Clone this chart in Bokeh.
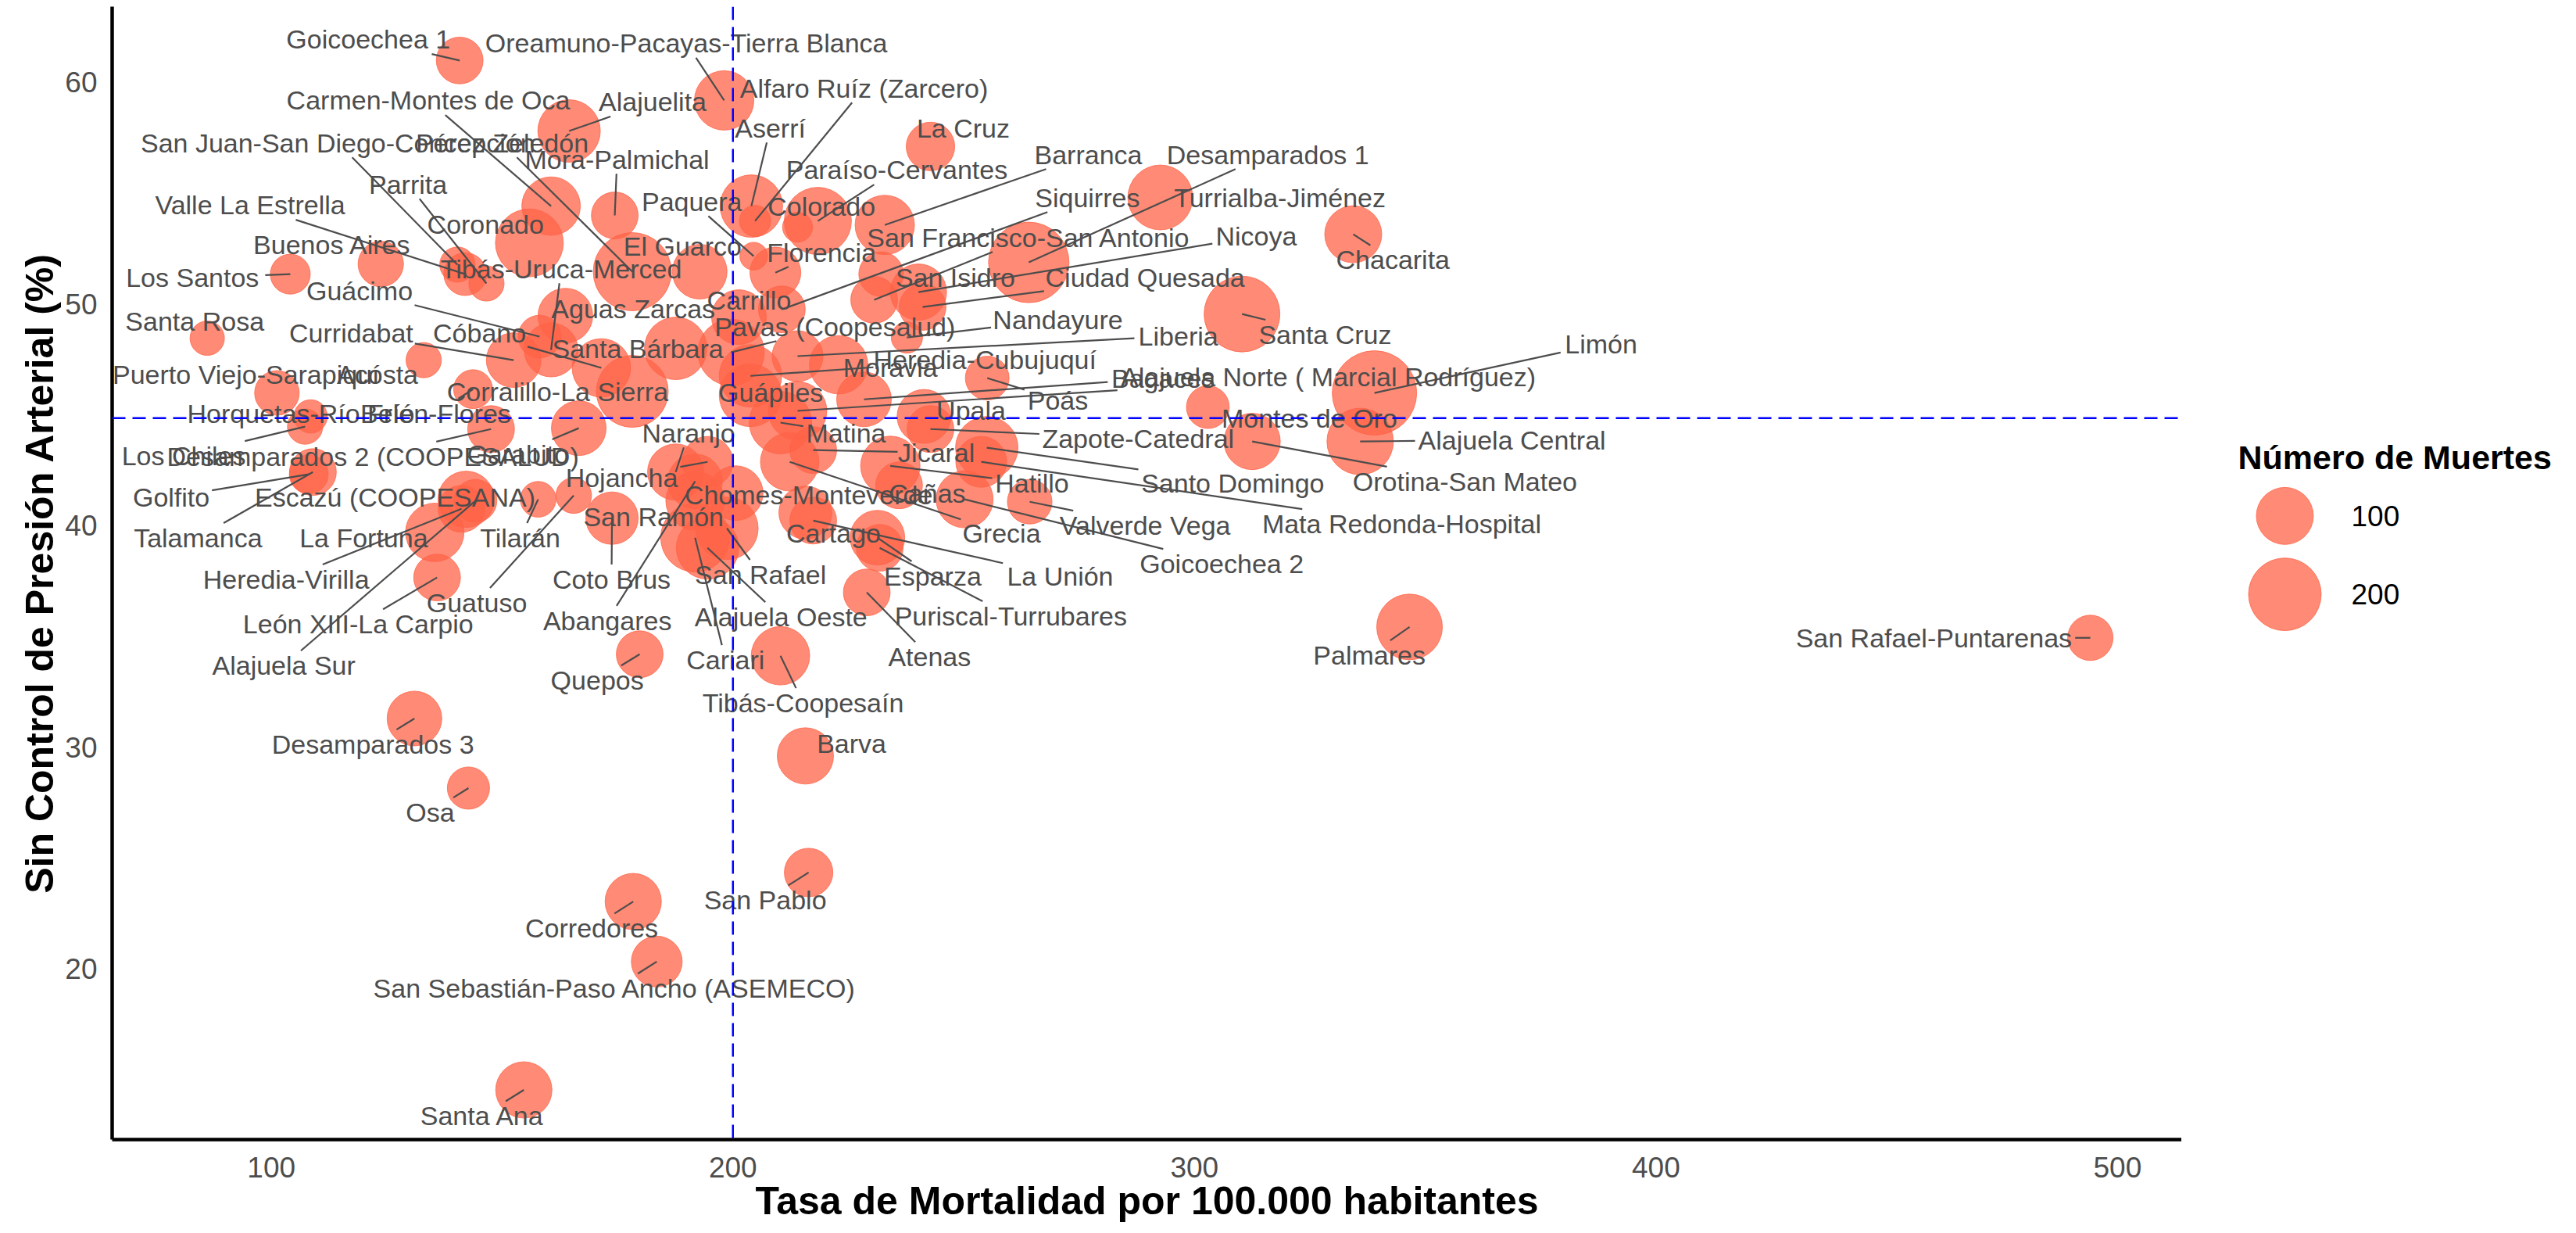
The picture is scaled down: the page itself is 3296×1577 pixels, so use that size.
import math
import numpy as np
from bokeh.plotting import figure
from bokeh.layouts import row
from bokeh.models import Range1d, FixedTicker, Span, ColumnDataSource
from bokeh.embed import file_html
from bokeh.resources import INLINE
from bokeh.core.properties import value

# ---------------- data ----------------
areas = [
    "Goicoechea 1", "Oreamuno-Pacayas-Tierra Blanca", "Alfaro Ruíz (Zarcero)", "Carmen-Montes de Oca", "Alajuelita",
    "La Cruz", "San Juan-San Diego-Concepción", "Pérez Zeledón", "Aserrí", "Paraíso-Cervantes",
    "Barranca", "Desamparados 1", "Mora-Palmichal", "Parrita", "Siquirres",
    "Turrialba-Jiménez", "Valle La Estrella", "Paquera", "Colorado", "Coronado",
    "San Francisco-San Antonio", "Nicoya", "Chacarita", "Buenos Aires", "Florencia",
    "El Guarco", "Tibás-Uruca-Merced", "Los Santos", "San Isidro", "Ciudad Quesada",
    "Guácimo", "Santa Rosa", "Carrillo", "Aguas Zarcas", "Pavas (Coopesalud)",
    "Nandayure", "Curridabat", "Cóbano", "Santa Bárbara", "Santa Cruz",
    "Limón", "Liberia", "Heredia-Cubujuquí", "Moravia", "Puerto Viejo-Sarapiquí",
    "Acosta", "Corralillo-La Sierra", "Bagaces", "Alajuela Norte ( Marcial Rodríguez)", "Guápiles",
    "Poás", "Horquetas-Río Frío", "Belén-Flores", "Upala", "Montes de Oro",
    "Naranjo", "Matina", "Zapote-Catedral", "Alajuela Central", "Los Chiles",
    "Desamparados 2 (COOPESALUD)", "Escazú (COOPESANA)", "Garabito", "Jicaral", "Hojancha",
    "Golfito", "Talamanca", "La Fortuna", "Tilarán", "San Ramón",
    "Chomes-Monteverde", "Cañas", "Hatillo", "Santo Domingo", "Orotina-San Mateo",
    "Valverde Vega", "Mata Redonda-Hospital", "Cartago", "Grecia", "Goicoechea 2",
    "Heredia-Virilla", "Coto Brus", "San Rafael", "Esparza", "La Unión",
    "Guatuso", "León XIII-La Carpio", "Abangares", "Alajuela Oeste", "Puriscal-Turrubares",
    "Palmares", "San Rafael-Puntarenas", "Alajuela Sur", "Quepos", "Cariari",
    "Atenas", "Tibás-Coopesaín", "Desamparados 3", "Barva", "Osa",
    "San Pablo", "Corredores", "San Sebastián-Paso Ancho (ASEMECO)", "Santa Ana",
]

# Tasa de mortalidad por 100.000 habitantes
rate = [
    140.8, 198.1, 204.8, 160.6, 164.5, 242.8, 140.3, 178.2, 204.0, 218.4,
    232.9, 264.1, 174.4, 146.6, 210.6, 292.6, 142.0, 204.5, 214.0, 155.9,
    230.6, 240.2, 334.4, 123.7, 209.2, 192.8, 160.6, 104.1, 232.1, 241.1,
    158.1, 86.1, 201.3, 163.7, 199.6, 237.7, 152.5, 171.5, 187.6, 310.3,
    339.0, 214.0, 203.8, 222.9, 101.2, 133.0, 178.2, 228.4, 214.0, 203.8,
    255.1, 108.5, 143.7, 241.4, 302.9, 187.6, 210.3, 242.8, 335.9, 107.3,
    147.6, 142.2, 166.6, 217.4, 194.5, 108.1, 109.0, 135.4, 157.8, 191.8,
    200.6, 236.0, 234.1, 255.0, 312.5, 264.3, 253.8, 215.7, 212.3, 250.2,
    141.2, 173.8, 198.7, 231.3, 217.4, 165.5, 135.9, 191.8, 194.5, 231.8,
    346.6, 494.1, 144.2, 179.8, 191.8, 229.0, 210.3, 131.0, 215.7, 142.7,
    216.4, 178.4, 183.5, 154.7,
]

# Sin control de presión arterial (%)
pct = [
    60.99, 59.19, 53.75, 54.42, 57.81, 57.11, 51.78, 51.46, 54.42, 53.75,
    53.57, 51.88, 54.00, 50.93, 49.76, 54.81, 51.35, 52.16, 53.47, 52.76,
    50.19, 50.54, 53.15, 51.81, 51.42, 51.46, 47.93, 51.35, 51.35, 49.87,
    48.53, 48.46, 49.41, 49.48, 47.82, 48.49, 47.47, 47.12, 48.00, 49.55,
    45.99, 47.65, 46.76, 47.26, 45.99, 47.47, 46.06, 45.70, 45.18, 45.88,
    46.66, 44.93, 46.16, 44.93, 45.35, 42.42, 44.65, 44.36, 43.80, 44.47,
    44.36, 41.19, 44.40, 43.41, 42.88, 42.32, 42.42, 39.70, 41.19, 41.12,
    41.47, 41.82, 42.70, 43.52, 43.80, 41.08, 42.88, 40.59, 42.88, 41.19,
    40.76, 40.34, 39.88, 39.46, 40.23, 41.36, 37.66, 42.00, 39.00, 39.00,
    35.43, 34.94, 41.12, 34.20, 39.46, 36.99, 34.13, 31.30, 29.61, 28.16,
    24.35, 23.04, 20.33, 14.54,
]

# Número de muertes
deaths = [
    53, 113, 10, 108, 131, 60, 18, 243, 131, 161,
    113, 263, 53, 18, 53, 146, 39, 5, 8, 166,
    53, 96, 100, 48, 70, 88, 84, 30, 45, 53,
    39, 16, 88, 88, 156, 10, 88, 108, 131, 224,
    298, 70, 131, 108, 45, 18, 194, 88, 108, 131,
    42, 14, 27, 84, 39, 96, 131, 53, 156, 18,
    53, 96, 88, 53, 70, 27, 53, 108, 19, 108,
    88, 53, 113, 131, 96, 45, 70, 80, 108, 100,
    53, 77, 131, 88, 53, 19, 53, 88, 131, 53,
    151, 48, 39, 53, 172, 53, 108, 88, 96, 37,
    60, 96, 70, 96,
]

# repelled label positions (data units)
lab_rate = [
    121.0, 189.9, 228.4, 134.0, 182.6, 249.9, 114.4, 150.0, 208.1, 235.5,
    277.0, 315.9, 174.9, 129.6, 276.8, 318.5, 95.4, 191.1, 219.2, 146.4,
    264.1, 313.4, 343.0, 113.2, 219.2, 189.1, 162.8, 82.9, 248.2, 289.3,
    119.1, 83.4, 203.5, 178.4, 222.1, 270.4, 117.3, 145.1, 179.4, 328.3,
    388.1, 296.5, 254.6, 234.1, 94.5, 123.0, 162.0, 293.2, 329.0, 208.2,
    270.4, 106.4, 135.6, 251.6, 324.9, 190.4, 224.5, 287.8, 368.8, 81.0,
    122.0, 126.8, 153.4, 244.1, 175.9, 78.3, 84.1, 120.0, 153.9, 182.8,
    216.4, 242.1, 264.8, 308.3, 358.6, 289.3, 344.9, 221.8, 258.2, 305.9,
    103.2, 173.7, 206.0, 243.3, 270.9, 144.5, 118.8, 172.8, 210.4, 260.2,
    337.9, 460.2, 102.7, 170.6, 198.4, 242.6, 215.2, 122.0, 225.7, 134.4,
    207.0, 169.4, 174.4, 145.7,
]
lab_pct = [
    61.94, 61.77, 59.75, 59.19, 59.12, 57.95, 57.28, 57.28, 57.95, 56.05,
    56.75, 56.75, 56.54, 55.41, 54.81, 54.81, 54.46, 54.63, 54.42, 53.58,
    53.01, 53.05, 51.99, 52.66, 52.34, 52.59, 51.60, 51.18, 51.18, 51.18,
    50.58, 49.23, 50.19, 49.80, 48.99, 49.30, 48.70, 48.70, 48.00, 48.63,
    48.21, 48.56, 47.50, 47.15, 46.83, 46.83, 46.06, 46.66, 46.73, 46.02,
    45.67, 45.07, 45.07, 45.21, 44.86, 44.19, 44.19, 43.94, 43.87, 43.16,
    43.13, 41.29, 43.23, 43.30, 42.17, 41.29, 39.46, 39.46, 39.46, 40.41,
    41.40, 41.47, 41.93, 41.93, 42.00, 40.02, 40.09, 39.67, 39.67, 38.29,
    37.59, 37.59, 37.80, 37.73, 37.73, 36.53, 35.57, 35.72, 35.89, 35.93,
    34.16, 34.94, 33.70, 33.03, 33.95, 34.09, 32.01, 30.14, 30.17, 27.07,
    23.11, 21.84, 19.13, 13.37,
]

x_ticks = [100, 200, 300, 400, 500]
y_ticks = [20, 30, 40, 50, 60]
legend_values = [100, 200]
REF_RATE = 200      # vertical reference line
REF_PCT = 44.85     # horizontal reference line

# ---------------- style / layout ----------------
FONT = "Liberation Sans"
LABEL_FS = 34
TEXT_GREY = "#4D4D4D"
POINT_COLOR = "#FF6347"
POINT_ALPHA = 0.75
PAGE_W, FIG_H = 3292, 1575
FIG_W = 2791
B_LEFT, B_TOP, B_BOTTOM = 143, 8, 118
X0, X1 = 65.5, 513.9
Y0, Y1 = 12.3, 63.42
MIN_SEG = 18


def marker_size(d):
    return 24.7 + 4.83 * np.sqrt(np.asarray(d, dtype=float))


def text_px(s, fs):
    w = 0.0
    for ch in s:
        if ch in "il.,'|íjI":
            w += 0.24
        elif ch in " ()-tfrJ":
            w += 0.31
        elif ch in "mwMW":
            w += 0.84
        elif ch.isupper():
            w += 0.69
        else:
            w += 0.55
    return w * fs


kx = (FIG_W - B_LEFT) / (X1 - X0)
ky = (FIG_H - B_TOP - B_BOTTOM) / (Y1 - Y0)

# ggrepel-like connector segments: point centre -> label box edge
sx0, sy0, sx1, sy1 = [], [], [], []
for name, r, q, lr, lq in zip(areas, rate, pct, lab_rate, lab_pct):
    px, py = (r - X0) * kx, (q - Y0) * ky
    lx, ly = (lr - X0) * kx, (lq - Y0) * ky
    hw = text_px(name, LABEL_FS) / 2 + 3
    hh = LABEL_FS * 0.55
    dx, dy = px - lx, py - ly
    if abs(dx) <= hw and abs(dy) <= hh:
        continue
    t = min(hw / abs(dx) if dx else math.inf, hh / abs(dy) if dy else math.inf)
    ex, ey = lx + dx * t, ly + dy * t
    if math.hypot(px - ex, py - ey) < MIN_SEG:
        continue
    sx0.append(r)
    sy0.append(q)
    sx1.append(ex / kx + X0)
    sy1.append(ey / ky + Y0)

src = ColumnDataSource(dict(area=areas, rate=rate, pct=pct, deaths=deaths,
                            size=marker_size(deaths), lx=lab_rate, ly=lab_pct))

p = figure(width=FIG_W, height=FIG_H, x_range=Range1d(X0, X1), y_range=Range1d(Y0, Y1),
           output_backend="svg", toolbar_location=None,
           min_border_left=B_LEFT, min_border_right=0, min_border_top=B_TOP, min_border_bottom=B_BOTTOM)
p.xgrid.visible = False
p.ygrid.visible = False
p.outline_line_color = None

p.scatter("rate", "pct", size="size", source=src, fill_color=POINT_COLOR, fill_alpha=POINT_ALPHA,
          line_color=POINT_COLOR, line_alpha=POINT_ALPHA, line_width=1)
p.segment(x0=sx0, y0=sy0, x1=sx1, y1=sy1, line_color=TEXT_GREY, line_width=2.2)
p.text("lx", "ly", text="area", source=src, text_font=value(FONT), text_font_size=f"{LABEL_FS}px",
       text_color=TEXT_GREY, text_align="center", text_baseline="middle")

p.add_layout(Span(location=REF_RATE, dimension="height", line_color="blue", line_dash="17 9", line_width=2.5))
p.add_layout(Span(location=REF_PCT, dimension="width", line_color="blue", line_dash="17 9", line_width=2.5))

for ax in (p.xaxis[0], p.yaxis[0]):
    ax.axis_line_color = "black"
    ax.axis_line_width = 4.5
    ax.major_tick_line_color = None
    ax.minor_tick_line_color = None
    ax.major_tick_out = 0
    ax.major_tick_in = 0
    ax.major_label_text_font = FONT
    ax.major_label_text_font_size = "37px"
    ax.major_label_text_color = TEXT_GREY
    ax.axis_label_text_font = FONT
    ax.axis_label_text_font_size = "50px"
    ax.axis_label_text_font_style = "bold"
    ax.axis_label_text_color = "black"

p.xaxis.ticker = FixedTicker(ticks=x_ticks)
p.yaxis.ticker = FixedTicker(ticks=y_ticks)
p.xaxis.major_label_standoff = 22
p.yaxis.major_label_standoff = 19

p.yaxis.axis_label = "Sin Control de Presión Arterial (%)"
p.yaxis.axis_label_standoff = 1
p.xaxis.axis_label = "Tasa de Mortalidad por 100.000 habitantes"
p.xaxis.axis_label_standoff = -1

# ---------------- legend panel ----------------
LEG_W = PAGE_W - FIG_W
leg = figure(width=LEG_W, height=FIG_H, x_range=Range1d(FIG_W, FIG_W + LEG_W), y_range=Range1d(FIG_H, 0),
             output_backend="svg", toolbar_location=None, x_axis_location=None, y_axis_location=None,
             min_border=0)
leg.grid.visible = False
leg.outline_line_color = None
key_y = [708, 817]
leg.scatter(x=[2923] * len(legend_values), y=key_y, size=marker_size(legend_values),
            fill_color=POINT_COLOR, fill_alpha=POINT_ALPHA, line_color=POINT_COLOR, line_alpha=POINT_ALPHA)
leg.text(x=[3008] * len(legend_values), y=key_y, text=[str(v) for v in legend_values],
         text_font=value(FONT), text_font_size="37px", text_color="black",
         text_align="left", text_baseline="middle")
leg.text(x=[2863], y=[627], text=["Número de Muertes"], text_font=value(FONT), text_font_size="43px",
         text_font_style="bold", text_color="black", text_align="left", text_baseline="middle")

layout = row(p, leg)
open("out.html", "w").write(file_html(layout, INLINE))
